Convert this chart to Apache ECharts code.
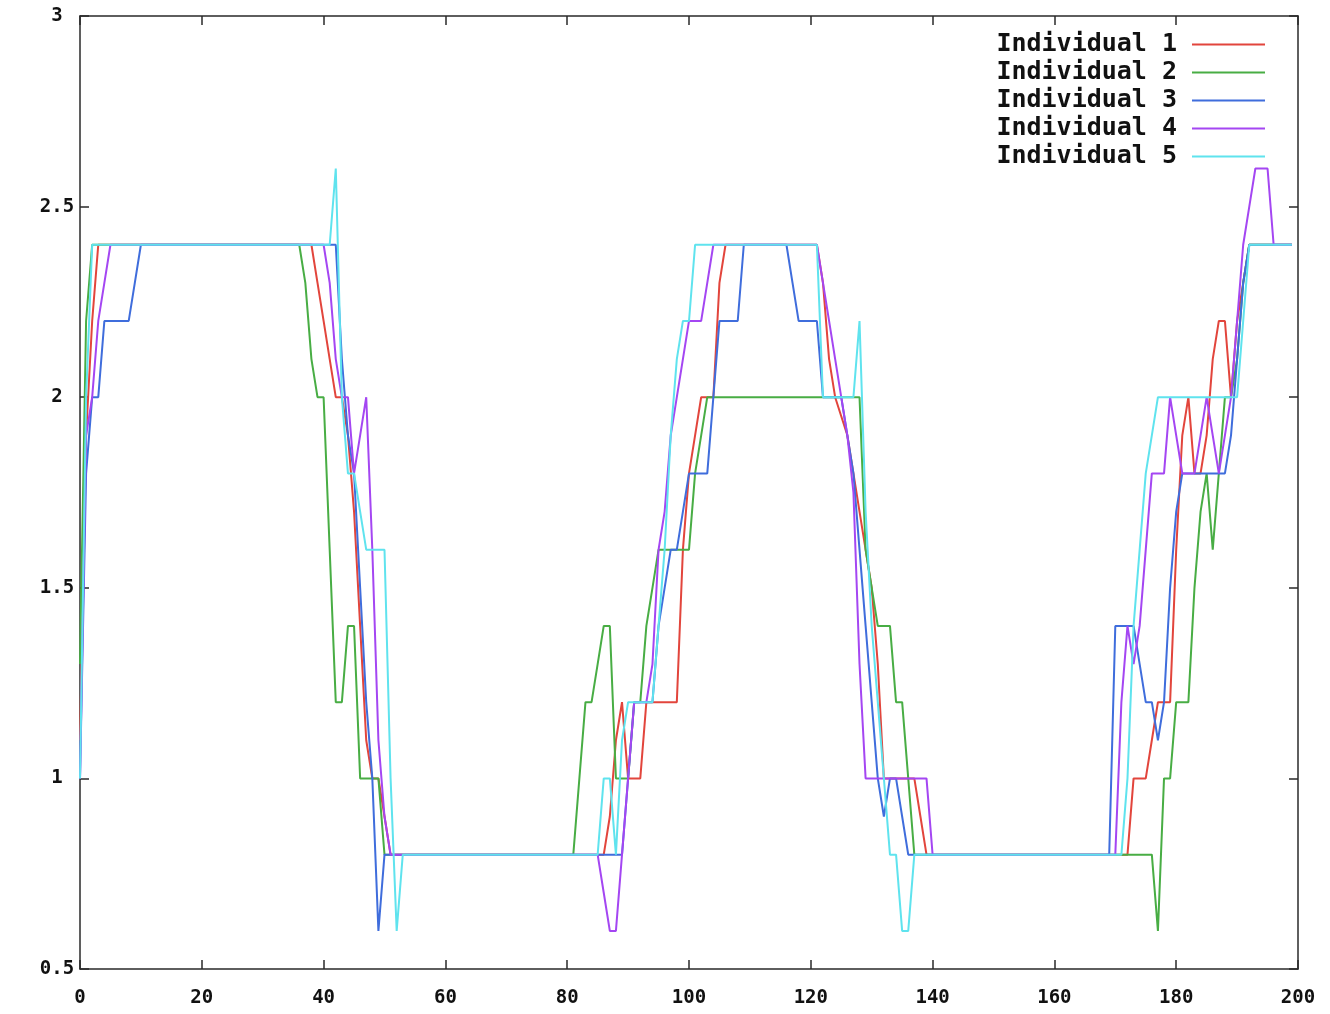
<!DOCTYPE html>
<html>
<head>
<meta charset="utf-8">
<script src="https://cdn.jsdelivr.net/npm/echarts@6/dist/echarts.min.js"></script>
<style>
  html, body { margin: 0; background: #fff; }
  #main { width: 1330px; height: 1014px; }
</style>
</head>
<body>
<div id="main"></div>
<script>
// series names and colours
const names = ['Individual 1', 'Individual 2', 'Individual 3', 'Individual 4', 'Individual 5'];
const colors = ['#e2453c', '#48ad44', '#3f6ddc', '#a446f2', '#5fe3ee'];

// [generation, value] (flat stretches only keep their ends)
const ind1 = [[0,1.1],[1,1.9],[2,2.2],[3,2.4],
  [38,2.4],[39,2.3],[40,2.2],[41,2.1],[42,2.0],[43,2.0],[44,1.9],[45,1.7],[46,1.4],[47,1.1],[48,1.0],[49,1.0],[50,0.9],[51,0.8],
  [86,0.8],[87,0.9],[88,1.1],[89,1.2],[90,1.0],[92,1.0],[93,1.2],[98,1.2],[99,1.6],[100,1.8],[101,1.9],[102,2.0],[104,2.0],[105,2.3],[106,2.4],
  [121,2.4],[122,2.3],[123,2.1],[124,2.0],[125,1.95],[126,1.9],[127,1.8],[128,1.7],[129,1.6],[130,1.5],[131,1.3],[132,1.0],[137,1.0],[138,0.9],[139,0.8],
  [172,0.8],[173,1.0],[175,1.0],[176,1.1],[177,1.2],[179,1.2],[180,1.6],[181,1.9],[182,2.0],[183,1.8],[184,1.8],[185,1.9],[186,2.1],[187,2.2],[188,2.2],[189,2.0],[190,2.2],[191,2.3],[192,2.4],[199,2.4]];

const ind2 = [[0,1.3],[1,2.2],[2,2.4],
  [36,2.4],[37,2.3],[38,2.1],[39,2.0],[40,2.0],[41,1.6],[42,1.2],[43,1.2],[44,1.4],[45,1.4],[46,1.0],[49,1.0],[50,0.8],
  [81,0.8],[82,1.0],[83,1.2],[84,1.2],[85,1.3],[86,1.4],[87,1.4],[88,1.0],[90,1.0],[91,1.2],[92,1.2],[93,1.4],[94,1.5],[95,1.6],[100,1.6],[101,1.8],[102,1.9],[103,2.0],
  [128,2.0],[129,1.6],[130,1.5],[131,1.4],[133,1.4],[134,1.2],[135,1.2],[136,1.0],[137,0.8],
  [176,0.8],[177,0.6],[178,1.0],[179,1.0],[180,1.2],[182,1.2],[183,1.5],[184,1.7],[185,1.8],[186,1.6],[187,1.8],[188,2.0],[189,2.0],[190,2.1],[191,2.3],[192,2.4],[199,2.4]];

const ind3 = [[0,1.0],[1,1.8],[2,2.0],[3,2.0],[4,2.2],[8,2.2],[9,2.3],[10,2.4],
  [42,2.4],[43,2.1],[44,1.9],[45,1.8],[46,1.5],[47,1.2],[48,1.0],[49,0.6],[50,0.8],
  [89,0.8],[90,1.0],[91,1.2],[94,1.2],[95,1.4],[96,1.5],[97,1.6],[98,1.6],[99,1.7],[100,1.8],[103,1.8],[104,2.0],[105,2.2],[108,2.2],[109,2.4],
  [116,2.4],[117,2.3],[118,2.2],[121,2.2],[122,2.0],[125,2.0],[126,1.9],[127,1.8],[128,1.6],[129,1.4],[130,1.2],[131,1.0],[132,0.9],[133,1.0],[134,1.0],[135,0.9],[136,0.8],
  [169,0.8],[170,1.4],[173,1.4],[174,1.3],[175,1.2],[176,1.2],[177,1.1],[178,1.2],[179,1.5],[180,1.7],[181,1.8],[188,1.8],[189,1.9],[190,2.1],[191,2.3],[192,2.4],[199,2.4]];

const ind4 = [[0,1.0],[1,1.9],[2,2.0],[3,2.2],[4,2.3],[5,2.4],
  [40,2.4],[41,2.3],[42,2.1],[43,2.0],[44,2.0],[45,1.8],[46,1.9],[47,2.0],[48,1.6],[49,1.1],[50,0.9],[51,0.8],
  [85,0.8],[86,0.7],[87,0.6],[88,0.6],[89,0.8],[90,1.0],[91,1.2],[93,1.2],[94,1.3],[95,1.6],[96,1.7],[97,1.9],[98,2.0],[99,2.1],[100,2.2],[102,2.2],[103,2.3],[104,2.4],
  [121,2.4],[122,2.3],[123,2.2],[124,2.1],[125,2.0],[126,1.9],[127,1.75],[128,1.3],[129,1.0],[139,1.0],[140,0.8],
  [170,0.8],[171,1.2],[172,1.4],[173,1.3],[174,1.4],[175,1.6],[176,1.8],[178,1.8],[179,2.0],[180,1.9],[181,1.8],[183,1.8],[184,1.9],[185,2.0],[186,1.9],[187,1.8],[188,1.9],[189,2.0],[190,2.2],[191,2.4],[192,2.5],[193,2.6],[195,2.6],[196,2.4],[199,2.4]];

const ind5 = [[0,1.0],[1,2.0],[2,2.4],
  [41,2.4],[42,2.6],[43,2.0],[44,1.8],[45,1.8],[46,1.7],[47,1.6],[50,1.6],[51,1.0],[52,0.6],[53,0.8],
  [85,0.8],[86,1.0],[87,1.0],[88,0.8],[89,1.1],[90,1.2],[94,1.2],[95,1.4],[96,1.6],[97,1.9],[98,2.1],[99,2.2],[100,2.2],[101,2.4],
  [121,2.4],[122,2.0],[127,2.0],[128,2.2],[129,1.7],[130,1.4],[131,1.2],[132,1.0],[133,0.8],[134,0.8],[135,0.6],[136,0.6],[137,0.8],
  [171,0.8],[172,1.0],[173,1.4],[174,1.6],[175,1.8],[176,1.9],[177,2.0],[190,2.0],[191,2.2],[192,2.4],[199,2.4]];

const allData = [ind1, ind2, ind3, ind4, ind5];

const font = 'DejaVu Sans Mono';
const axisColor = '#2a2a2a';

let chart = echarts.init(document.getElementById('main'));

const xBase = {
  type: 'value', min: 0, max: 200, interval: 20,
  axisLine: { show: true, onZero: false, lineStyle: { color: axisColor, width: 1.5 } },
  axisTick: { show: true, inside: true, length: 9, lineStyle: { color: axisColor, width: 1.5 } },
  splitLine: { show: false }
};
const yBase = {
  type: 'value', min: 0.5, max: 3, interval: 0.5,
  axisLine: { show: true, onZero: false, lineStyle: { color: axisColor, width: 1.5 } },
  axisTick: { show: true, inside: true, length: 9, lineStyle: { color: axisColor, width: 1.5 } },
  splitLine: { show: false }
};

chart.setOption({
  animation: false,
  backgroundColor: '#fff',
  grid: { left: 80, right: 32, top: 16, bottom: 45 },
  legend: {
    data: names,
    orient: 'vertical',
    right: 60,
    top: 27,
    align: 'right',
    icon: 'rect',
    itemWidth: 73,
    itemHeight: 2,
    itemGap: 3,
    selectedMode: false,
    textStyle: { fontFamily: font, fontWeight: 'bold', fontSize: 25, lineHeight: 25, color: '#111', padding: [0, 10, 0, 0] }
  },
  xAxis: [
    Object.assign({}, xBase, {
      position: 'bottom',
      axisLabel: { fontFamily: font, fontWeight: 'bold', fontSize: 19, color: '#111', margin: 20 }
    }),
    Object.assign({}, xBase, { position: 'top', axisLabel: { show: false } })
  ],
  yAxis: [
    Object.assign({}, yBase, {
      position: 'left',
      axisLabel: { fontFamily: font, fontWeight: 'bold', fontSize: 19, color: '#111', margin: 23, align: 'center' }
    }),
    Object.assign({}, yBase, { position: 'right', axisLabel: { show: false } })
  ],
  series: allData.map((d, i) => ({
    name: names[i],
    type: 'line',
    xAxisIndex: 0,
    yAxisIndex: 0,
    data: d,
    showSymbol: false,
    color: colors[i],
    lineStyle: { width: 2, color: colors[i] }
  }))
});
</script>
</body>
</html>
